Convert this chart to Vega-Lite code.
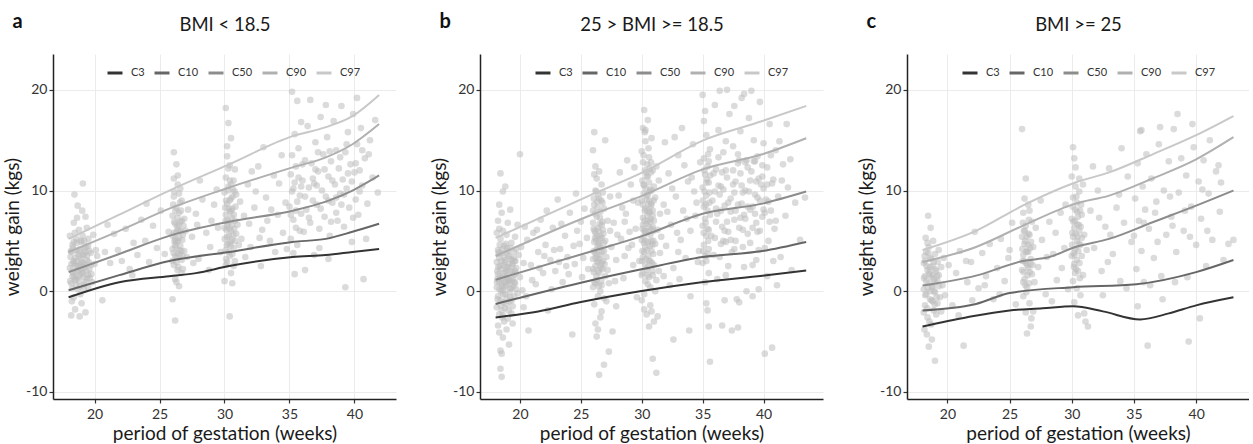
{
"$schema": "https://vega.github.io/schema/vega-lite/v6.json",
"padding": {"left": 3, "top": 12, "right": 0, "bottom": 0},
"datasets": {
"pa": [
{"x":18.1,"y":2.3},{"x":18.2,"y":0.8},{"x":18.2,"y":3.9},{"x":18.3,"y":1.5},{"x":18.3,"y":4.6},{"x":18.4,"y":2.8},{"x":18.4,"y":-0.6},{"x":18.5,"y":3.3},{"x":18.5,"y":1.1},{"x":18.6,"y":5.2},{"x":18.6,"y":2.0},{"x":18.7,"y":0.2},{"x":18.7,"y":3.7},{"x":18.8,"y":2.5},{"x":18.8,"y":6.1},{"x":18.9,"y":1.6},{"x":18.9,"y":4.2},{"x":19.0,"y":2.9},{"x":19.0,"y":-1.2},{"x":19.1,"y":3.6},{"x":19.1,"y":1.9},{"x":19.2,"y":5.0},{"x":19.2,"y":0.7},{"x":19.3,"y":2.6},{"x":19.3,"y":7.4},{"x":19.4,"y":3.1},{"x":19.4,"y":1.3},{"x":19.5,"y":4.5},{"x":19.6,"y":2.2},{"x":19.7,"y":3.8},{"x":19.8,"y":0.9},{"x":19.9,"y":5.6},{"x":20.0,"y":2.7},{"x":20.1,"y":4.1},{"x":18.1,"y":5.5},{"x":18.2,"y":-2.4},{"x":18.3,"y":2.0},{"x":18.4,"y":6.8},{"x":18.5,"y":-1.8},{"x":18.6,"y":3.0},{"x":18.7,"y":8.5},{"x":18.8,"y":1.0},{"x":18.9,"y":-0.3},{"x":19.0,"y":4.9},{"x":19.1,"y":10.7},{"x":19.2,"y":2.4},{"x":19.3,"y":-2.1},{"x":19.4,"y":6.3},{"x":19.5,"y":0.4},{"x":19.6,"y":4.0},{"x":18.15,"y":3.4},{"x":18.35,"y":1.8},{"x":18.55,"y":4.1},{"x":18.75,"y":2.1},{"x":18.95,"y":3.2},{"x":19.15,"y":1.4},{"x":19.35,"y":4.4},{"x":19.55,"y":2.9},{"x":19.75,"y":1.7},{"x":20.2,"y":3.5},{"x":18.45,"y":9.6},{"x":18.65,"y":7.3},{"x":19.05,"y":8.0},{"x":18.25,"y":-1.0},{"x":18.85,"y":-2.5},{"x":18.6,"y":1.2},{"x":18.9,"y":2.6},{"x":19.2,"y":3.7},{"x":19.5,"y":1.6},{"x":18.4,"y":4.9},
{"x":18.12,"y":1.0},{"x":18.22,"y":2.7},{"x":18.32,"y":4.3},{"x":18.42,"y":1.4},{"x":18.52,"y":2.6},{"x":18.62,"y":4.8},{"x":18.72,"y":1.5},{"x":18.82,"y":3.5},{"x":18.92,"y":5.0},{"x":19.02,"y":1.8},{"x":19.12,"y":2.8},{"x":19.22,"y":4.3},{"x":19.32,"y":0.9},{"x":19.42,"y":3.5},{"x":19.52,"y":5.2},{"x":19.62,"y":1.3},{"x":19.72,"y":2.6},{"x":18.18,"y":4.0},{"x":18.28,"y":0.3},{"x":18.38,"y":3.0},{"x":18.48,"y":5.8},{"x":18.58,"y":0.6},{"x":18.68,"y":2.4},{"x":18.78,"y":4.0},{"x":18.88,"y":0.5},{"x":18.98,"y":2.2},{"x":19.08,"y":5.5},{"x":19.18,"y":0.2},{"x":19.28,"y":3.9},{"x":19.38,"y":2.0},
{"x":20.6,"y":-0.9},{"x":20.8,"y":3.9},{"x":21.2,"y":2.8},{"x":21.5,"y":5.7},{"x":21.8,"y":4.1},{"x":22.1,"y":3.0},{"x":22.4,"y":6.2},{"x":22.7,"y":2.2},{"x":23.0,"y":4.8},{"x":23.3,"y":3.6},{"x":23.6,"y":7.1},{"x":23.9,"y":5.0},{"x":24.2,"y":2.9},{"x":24.5,"y":6.5},{"x":24.8,"y":4.3},{"x":25.1,"y":8.0},{"x":25.4,"y":3.7},{"x":25.7,"y":5.9},{"x":21.0,"y":6.6},{"x":22.9,"y":1.6},{"x":24.0,"y":8.7},
{"x":26.0,"y":4.2},{"x":26.0,"y":7.5},{"x":26.1,"y":2.6},{"x":26.1,"y":5.8},{"x":26.1,"y":9.4},{"x":26.2,"y":3.5},{"x":26.2,"y":6.7},{"x":26.2,"y":1.2},{"x":26.3,"y":4.9},{"x":26.3,"y":8.3},{"x":26.3,"y":2.9},{"x":26.4,"y":6.1},{"x":26.4,"y":3.8},{"x":26.4,"y":10.6},{"x":26.5,"y":5.3},{"x":26.5,"y":7.8},{"x":26.5,"y":0.5},{"x":26.6,"y":4.5},{"x":26.6,"y":6.9},{"x":26.7,"y":3.1},{"x":26.7,"y":9.0},{"x":26.8,"y":5.6},{"x":26.8,"y":2.2},{"x":26.9,"y":4.0},{"x":26.9,"y":7.2},{"x":27.0,"y":6.0},{"x":27.1,"y":3.4},{"x":27.2,"y":8.1},{"x":26.0,"y":-0.8},{"x":26.2,"y":-2.9},{"x":26.3,"y":12.6},{"x":26.1,"y":13.8},{"x":26.4,"y":11.5},{"x":26.6,"y":10.2},{"x":26.0,"y":3.0},{"x":26.15,"y":5.0},{"x":26.35,"y":6.4},{"x":26.55,"y":3.6},{"x":26.75,"y":5.1},{"x":26.05,"y":8.6},{"x":26.25,"y":4.4},{"x":26.45,"y":2.4},{"x":26.65,"y":8.0},{"x":26.85,"y":6.5},{"x":26.3,"y":0.9},{"x":26.7,"y":1.8},{"x":26.1,"y":11.2},{"x":26.5,"y":9.7},
{"x":26.02,"y":5.5},{"x":26.08,"y":3.8},{"x":26.12,"y":6.9},{"x":26.18,"y":4.6},{"x":26.22,"y":8.0},{"x":26.28,"y":5.8},{"x":26.32,"y":3.3},{"x":26.38,"y":7.3},{"x":26.42,"y":5.0},{"x":26.48,"y":6.6},{"x":26.52,"y":4.1},{"x":26.58,"y":8.8},{"x":26.62,"y":5.9},{"x":26.68,"y":4.0},{"x":26.72,"y":7.0},{"x":26.78,"y":3.5},{"x":26.12,"y":9.9},{"x":26.38,"y":2.1},{"x":26.58,"y":6.0},{"x":26.22,"y":5.2},
{"x":27.5,"y":5.4},{"x":27.8,"y":7.7},{"x":28.0,"y":3.2},{"x":28.3,"y":9.1},{"x":28.6,"y":5.8},{"x":28.9,"y":4.4},{"x":29.2,"y":8.6},{"x":29.5,"y":6.3},{"x":27.6,"y":2.8},{"x":28.1,"y":11.0},{"x":28.8,"y":2.1},{"x":29.4,"y":10.1},{"x":27.9,"y":6.6},{"x":29.0,"y":7.0},{"x":29.7,"y":3.9},
{"x":30.0,"y":6.3},{"x":30.0,"y":9.8},{"x":30.1,"y":4.1},{"x":30.1,"y":7.6},{"x":30.1,"y":11.3},{"x":30.2,"y":5.4},{"x":30.2,"y":8.7},{"x":30.2,"y":2.9},{"x":30.3,"y":6.8},{"x":30.3,"y":10.4},{"x":30.3,"y":4.7},{"x":30.4,"y":7.9},{"x":30.4,"y":3.5},{"x":30.4,"y":12.5},{"x":30.5,"y":6.0},{"x":30.5,"y":9.2},{"x":30.5,"y":1.8},{"x":30.6,"y":5.1},{"x":30.6,"y":8.2},{"x":30.7,"y":4.3},{"x":30.7,"y":11.0},{"x":30.8,"y":7.0},{"x":30.8,"y":3.0},{"x":30.9,"y":5.7},{"x":30.9,"y":9.6},{"x":31.0,"y":6.6},{"x":31.1,"y":4.6},{"x":31.2,"y":8.9},{"x":31.3,"y":5.2},{"x":30.1,"y":18.2},{"x":30.3,"y":16.7},{"x":30.2,"y":14.4},{"x":30.5,"y":15.2},{"x":30.4,"y":-2.5},{"x":30.6,"y":0.8},{"x":30.0,"y":1.0},{"x":30.15,"y":6.1},{"x":30.35,"y":5.5},{"x":30.55,"y":7.3},{"x":30.75,"y":6.2},{"x":30.05,"y":8.3},{"x":30.25,"y":7.1},{"x":30.45,"y":4.9},{"x":30.65,"y":10.1},{"x":30.85,"y":8.4},{"x":30.2,"y":13.4},{"x":30.8,"y":12.1},{"x":30.4,"y":9.0},{"x":30.6,"y":3.7},{"x":30.1,"y":2.6},{"x":30.3,"y":12.2},{"x":30.7,"y":2.5},
{"x":30.02,"y":5.2},{"x":30.08,"y":7.0},{"x":30.12,"y":9.0},{"x":30.18,"y":4.6},{"x":30.22,"y":6.5},{"x":30.28,"y":10.0},{"x":30.32,"y":8.2},{"x":30.38,"y":6.2},{"x":30.42,"y":11.0},{"x":30.48,"y":4.5},{"x":30.52,"y":8.0},{"x":30.58,"y":6.6},{"x":30.62,"y":9.4},{"x":30.68,"y":5.6},{"x":30.72,"y":7.6},{"x":30.78,"y":9.9},{"x":30.12,"y":3.2},{"x":30.32,"y":3.9},{"x":30.52,"y":10.6},{"x":30.82,"y":5.0},
{"x":31.5,"y":7.5},{"x":31.8,"y":10.6},{"x":32.0,"y":4.4},{"x":32.3,"y":8.3},{"x":32.6,"y":12.4},{"x":32.9,"y":6.1},{"x":33.2,"y":9.3},{"x":33.5,"y":5.0},{"x":33.8,"y":11.5},{"x":34.1,"y":7.6},{"x":34.4,"y":13.5},{"x":34.7,"y":8.8},{"x":31.6,"y":3.4},{"x":32.1,"y":11.9},{"x":32.8,"y":2.5},{"x":33.3,"y":7.0},{"x":33.9,"y":3.9},{"x":34.5,"y":5.8},{"x":31.9,"y":6.7},{"x":32.4,"y":9.9},{"x":33.0,"y":14.3},{"x":33.6,"y":8.1},{"x":34.2,"y":10.7},{"x":34.8,"y":4.2},{"x":32.7,"y":5.3},
{"x":35.0,"y":8.4},{"x":35.1,"y":11.6},{"x":35.1,"y":5.2},{"x":35.2,"y":9.9},{"x":35.2,"y":13.5},{"x":35.3,"y":7.1},{"x":35.3,"y":3.8},{"x":35.4,"y":10.8},{"x":35.4,"y":15.6},{"x":35.5,"y":6.3},{"x":35.5,"y":12.4},{"x":35.6,"y":8.9},{"x":35.6,"y":4.6},{"x":35.7,"y":14.2},{"x":35.8,"y":9.5},{"x":35.9,"y":7.7},{"x":36.0,"y":11.0},{"x":36.1,"y":5.9},{"x":36.2,"y":13.0},{"x":36.3,"y":8.1},{"x":36.4,"y":16.4},{"x":36.5,"y":10.3},{"x":36.6,"y":6.8},{"x":36.7,"y":12.7},{"x":36.8,"y":9.0},{"x":36.9,"y":3.6},{"x":37.0,"y":14.8},{"x":37.1,"y":8.6},{"x":37.2,"y":11.9},{"x":37.3,"y":6.2},{"x":37.4,"y":17.3},{"x":37.5,"y":10.0},{"x":37.6,"y":13.6},{"x":37.7,"y":7.4},{"x":37.8,"y":9.4},{"x":37.9,"y":15.3},{"x":38.0,"y":11.4},{"x":38.1,"y":5.5},{"x":38.2,"y":12.9},{"x":38.3,"y":8.8},{"x":38.4,"y":16.9},{"x":38.5,"y":10.6},{"x":38.6,"y":14.0},{"x":38.7,"y":7.0},{"x":38.8,"y":12.2},{"x":38.9,"y":9.7},{"x":39.0,"y":18.4},{"x":39.1,"y":11.1},{"x":39.2,"y":6.4},{"x":39.3,"y":13.8},{"x":39.4,"y":10.2},{"x":39.5,"y":15.8},{"x":39.6,"y":8.3},{"x":39.7,"y":12.6},{"x":39.8,"y":4.9},{"x":39.9,"y":17.6},{"x":40.0,"y":11.8},{"x":40.1,"y":9.1},{"x":40.2,"y":14.6},{"x":40.3,"y":7.6},{"x":40.4,"y":12.0},{"x":40.5,"y":16.2},{"x":40.6,"y":10.5},{"x":40.7,"y":1.2},{"x":40.8,"y":13.2},{"x":41.0,"y":8.7},{"x":41.2,"y":15.0},{"x":41.4,"y":11.3},{"x":41.6,"y":17.0},{"x":41.8,"y":9.8},{"x":35.2,"y":19.8},{"x":35.6,"y":18.9},{"x":36.6,"y":19.0},{"x":37.8,"y":18.5},{"x":39.3,"y":0.4},{"x":38.0,"y":3.2},{"x":36.2,"y":2.1},{"x":35.4,"y":1.7},{"x":37.3,"y":4.3},{"x":35.8,"y":6.0},{"x":36.9,"y":10.7},{"x":38.6,"y":9.3},{"x":39.9,"y":7.3},{"x":40.9,"y":5.2},{"x":41.1,"y":13.6},{"x":39.4,"y":14.6},{"x":38.2,"y":6.9},{"x":37.0,"y":12.1},{"x":35.9,"y":16.8},{"x":40.2,"y":19.2},
{"x":35.1,"y":7.6},{"x":35.3,"y":10.2},{"x":35.5,"y":8.0},{"x":35.7,"y":11.3},{"x":35.9,"y":10.4},{"x":36.2,"y":9.4},{"x":36.5,"y":7.3},{"x":36.8,"y":11.2},{"x":37.1,"y":10.5},{"x":37.4,"y":8.2},{"x":37.7,"y":12.1},{"x":38.0,"y":9.0},{"x":38.3,"y":11.0},{"x":38.6,"y":7.8},{"x":38.9,"y":13.3},{"x":39.2,"y":9.6},{"x":39.5,"y":11.7},{"x":39.8,"y":10.9},{"x":40.1,"y":12.7},{"x":40.4,"y":9.9},{"x":37.2,"y":13.8},{"x":38.1,"y":13.9},{"x":39.0,"y":8.6},{"x":36.0,"y":12.6},{"x":40.6,"y":14.0}
],
"pb": [
{"x":18.1,"y":0.4},{"x":18.1,"y":2.9},{"x":18.1,"y":-1.6},{"x":18.2,"y":1.7},{"x":18.2,"y":4.1},{"x":18.2,"y":-0.5},{"x":18.3,"y":0.9},{"x":18.3,"y":3.3},{"x":18.3,"y":-2.3},{"x":18.4,"y":2.2},{"x":18.4,"y":5.2},{"x":18.4,"y":-0.9},{"x":18.5,"y":1.3},{"x":18.5,"y":3.8},{"x":18.5,"y":-1.9},{"x":18.6,"y":0.1},{"x":18.6,"y":2.6},{"x":18.6,"y":6.0},{"x":18.7,"y":1.0},{"x":18.7,"y":-3.0},{"x":18.7,"y":4.5},{"x":18.8,"y":1.9},{"x":18.8,"y":-0.3},{"x":18.8,"y":3.1},{"x":18.9,"y":0.6},{"x":18.9,"y":5.6},{"x":18.9,"y":-1.3},{"x":19.0,"y":2.4},{"x":19.0,"y":-2.7},{"x":19.0,"y":4.0},{"x":19.1,"y":1.1},{"x":19.1,"y":3.5},{"x":19.2,"y":-0.6},{"x":19.2,"y":2.0},{"x":19.3,"y":4.8},{"x":19.3,"y":0.3},{"x":19.4,"y":2.7},{"x":19.4,"y":-1.5},{"x":19.5,"y":1.6},{"x":19.5,"y":3.9},{"x":19.6,"y":0.8},{"x":19.6,"y":5.4},{"x":19.7,"y":2.3},{"x":19.8,"y":-0.2},{"x":19.9,"y":3.6},{"x":20.0,"y":1.4},{"x":20.1,"y":4.4},{"x":20.2,"y":0.1},{"x":20.3,"y":2.8},{"x":20.4,"y":6.4},{"x":18.2,"y":7.0},{"x":18.3,"y":8.6},{"x":18.4,"y":11.7},{"x":18.6,"y":9.9},{"x":18.8,"y":10.4},{"x":18.5,"y":7.8},{"x":19.0,"y":6.8},{"x":19.2,"y":8.1},{"x":18.3,"y":-4.1},{"x":18.4,"y":-5.9},{"x":18.5,"y":-6.2},{"x":18.4,"y":-7.7},{"x":18.5,"y":-8.5},{"x":18.6,"y":-4.6},{"x":18.9,"y":-3.8},{"x":19.1,"y":-5.3},{"x":19.4,"y":-3.2},{"x":20.0,"y":13.6},{"x":18.15,"y":1.2},{"x":18.35,"y":2.5},{"x":18.55,"y":0.5},{"x":18.75,"y":2.9},{"x":18.95,"y":1.5},{"x":19.15,"y":-0.1},{"x":19.35,"y":1.9},{"x":19.55,"y":3.0},{"x":18.25,"y":3.7},{"x":18.45,"y":0.0},{"x":18.65,"y":-1.1},{"x":18.85,"y":4.7},{"x":19.05,"y":0.9},{"x":19.25,"y":3.2},{"x":19.45,"y":0.5},{"x":19.65,"y":1.8},{"x":18.1,"y":5.8},{"x":18.3,"y":6.2},{"x":18.6,"y":-2.4},{"x":18.9,"y":2.1},{"x":19.3,"y":-2.2},{"x":19.7,"y":4.2},{"x":20.5,"y":-0.5},{"x":20.6,"y":5.1},{"x":20.3,"y":-1.6},{"x":18.2,"y":-3.4},{"x":19.8,"y":6.6},{"x":20.7,"y":-3.9},
{"x":18.12,"y":0.9},{"x":18.17,"y":-0.8},{"x":18.22,"y":2.4},{"x":18.27,"y":3.9},{"x":18.32,"y":0.2},{"x":18.37,"y":1.5},{"x":18.42,"y":-1.4},{"x":18.47,"y":3.0},{"x":18.52,"y":0.7},{"x":18.57,"y":4.2},{"x":18.62,"y":-0.3},{"x":18.67,"y":1.8},{"x":18.72,"y":3.4},{"x":18.77,"y":-1.7},{"x":18.82,"y":0.9},{"x":18.87,"y":2.4},{"x":18.92,"y":-0.7},{"x":18.97,"y":3.7},{"x":19.02,"y":1.2},{"x":19.07,"y":-1.9},{"x":19.12,"y":2.7},{"x":19.17,"y":0.3},{"x":19.22,"y":4.3},{"x":19.27,"y":1.0},{"x":19.32,"y":-0.9},{"x":19.37,"y":2.5},{"x":19.42,"y":1.2},{"x":19.47,"y":3.3},{"x":19.52,"y":-0.5},{"x":19.57,"y":2.0},{"x":19.62,"y":3.0},{"x":19.67,"y":0.2},{"x":18.14,"y":2.0},{"x":18.34,"y":4.6},{"x":18.54,"y":-2.6},{"x":18.74,"y":0.4},{"x":18.94,"y":4.3},{"x":19.14,"y":-1.0},{"x":19.34,"y":3.1},{"x":19.54,"y":0.9},
{"x":20.9,"y":2.6},{"x":21.1,"y":5.8},{"x":21.3,"y":0.7},{"x":21.5,"y":3.9},{"x":21.7,"y":7.1},{"x":21.9,"y":1.8},{"x":22.1,"y":4.6},{"x":22.3,"y":-1.9},{"x":22.5,"y":3.1},{"x":22.7,"y":6.3},{"x":22.9,"y":2.0},{"x":23.1,"y":9.1},{"x":23.3,"y":4.2},{"x":23.5,"y":0.9},{"x":23.7,"y":5.5},{"x":23.9,"y":3.4},{"x":24.1,"y":7.8},{"x":24.3,"y":-4.3},{"x":24.5,"y":2.7},{"x":24.7,"y":6.0},{"x":24.9,"y":4.7},{"x":25.1,"y":1.4},{"x":25.3,"y":8.2},{"x":25.5,"y":5.3},{"x":21.0,"y":1.1},{"x":21.6,"y":2.3},{"x":22.2,"y":8.0},{"x":22.8,"y":4.1},{"x":23.4,"y":6.7},{"x":24.0,"y":1.7},{"x":24.6,"y":9.7},{"x":25.2,"y":3.3},{"x":21.4,"y":6.1},{"x":22.6,"y":0.2},{"x":23.8,"y":2.5},{"x":25.0,"y":6.9},{"x":24.4,"y":4.5},{"x":23.2,"y":2.9},{"x":22.0,"y":3.5},{"x":25.6,"y":2.2},
{"x":26.0,"y":3.2},{"x":26.0,"y":6.8},{"x":26.0,"y":0.4},{"x":26.1,"y":4.9},{"x":26.1,"y":8.6},{"x":26.1,"y":-1.3},{"x":26.2,"y":2.5},{"x":26.2,"y":5.8},{"x":26.2,"y":10.0},{"x":26.3,"y":1.1},{"x":26.3,"y":4.1},{"x":26.3,"y":7.4},{"x":26.4,"y":-0.5},{"x":26.4,"y":3.0},{"x":26.4,"y":6.3},{"x":26.5,"y":9.2},{"x":26.5,"y":1.8},{"x":26.5,"y":4.6},{"x":26.6,"y":0.0},{"x":26.6,"y":7.9},{"x":26.6,"y":3.6},{"x":26.7,"y":5.3},{"x":26.7,"y":-2.0},{"x":26.7,"y":10.6},{"x":26.8,"y":2.2},{"x":26.8,"y":6.1},{"x":26.9,"y":4.0},{"x":26.9,"y":8.2},{"x":27.0,"y":1.5},{"x":27.0,"y":5.0},{"x":27.1,"y":3.4},{"x":27.2,"y":7.0},{"x":27.3,"y":0.8},{"x":27.4,"y":9.4},{"x":27.5,"y":4.4},{"x":26.05,"y":1.9},{"x":26.15,"y":3.8},{"x":26.25,"y":5.1},{"x":26.35,"y":2.9},{"x":26.45,"y":4.8},{"x":26.55,"y":6.7},{"x":26.65,"y":2.3},{"x":26.75,"y":3.9},{"x":26.85,"y":5.7},{"x":26.95,"y":2.7},{"x":26.1,"y":11.6},{"x":26.3,"y":11.2},{"x":26.2,"y":12.4},{"x":26.0,"y":14.0},{"x":26.1,"y":15.8},{"x":26.5,"y":11.9},{"x":27.0,"y":15.0},{"x":26.2,"y":-3.2},{"x":26.4,"y":-3.8},{"x":26.3,"y":-4.5},{"x":26.5,"y":-8.3},{"x":26.9,"y":-7.3},{"x":26.6,"y":-2.6},{"x":27.1,"y":-1.0},{"x":27.3,"y":-6.0},{"x":27.6,"y":-4.0},{"x":26.0,"y":8.0},{"x":26.4,"y":9.6},{"x":26.8,"y":9.8},{"x":26.2,"y":0.8},{"x":26.6,"y":5.5},{"x":27.2,"y":2.1},{"x":26.05,"y":6.2},{"x":26.35,"y":8.9},{"x":26.7,"y":0.6},{"x":26.9,"y":-0.7},{"x":27.4,"y":6.0},
{"x":26.02,"y":2.2},{"x":26.07,"y":4.0},{"x":26.12,"y":6.0},{"x":26.17,"y":7.7},{"x":26.22,"y":3.3},{"x":26.27,"y":1.5},{"x":26.32,"y":5.5},{"x":26.37,"y":8.3},{"x":26.42,"y":2.0},{"x":26.47,"y":6.0},{"x":26.52,"y":3.2},{"x":26.57,"y":7.3},{"x":26.62,"y":4.3},{"x":26.67,"y":1.0},{"x":26.72,"y":6.6},{"x":26.77,"y":8.8},{"x":26.82,"y":3.0},{"x":26.87,"y":4.8},{"x":26.07,"y":9.2},{"x":26.27,"y":9.9},{"x":26.47,"y":0.5},{"x":26.67,"y":9.0},{"x":26.12,"y":0.9},{"x":26.32,"y":3.6},{"x":26.52,"y":5.2},{"x":26.72,"y":2.8},{"x":26.17,"y":5.3},{"x":26.37,"y":4.5},{"x":26.57,"y":2.5},{"x":26.77,"y":6.9},
{"x":27.7,"y":6.8},{"x":27.9,"y":3.1},{"x":28.1,"y":9.5},{"x":28.3,"y":5.2},{"x":28.5,"y":1.3},{"x":28.7,"y":7.7},{"x":28.9,"y":4.3},{"x":29.1,"y":10.6},{"x":29.3,"y":2.6},{"x":29.5,"y":6.2},{"x":29.7,"y":8.8},{"x":27.8,"y":1.0},{"x":28.2,"y":11.8},{"x":28.6,"y":3.5},{"x":29.0,"y":5.9},{"x":29.4,"y":12.3},{"x":29.6,"y":-0.6},{"x":28.4,"y":8.3},{"x":27.9,"y":-1.5},{"x":29.2,"y":4.6},{"x":28.8,"y":13.0},{"x":29.8,"y":3.0},{"x":28.0,"y":5.6},{"x":29.3,"y":9.0},{"x":28.6,"y":6.9},
{"x":30.0,"y":5.1},{"x":30.0,"y":9.0},{"x":30.0,"y":1.6},{"x":30.1,"y":7.3},{"x":30.1,"y":12.8},{"x":30.1,"y":3.4},{"x":30.2,"y":6.0},{"x":30.2,"y":10.5},{"x":30.2,"y":-0.3},{"x":30.3,"y":4.4},{"x":30.3,"y":8.2},{"x":30.3,"y":14.9},{"x":30.4,"y":2.1},{"x":30.4,"y":6.7},{"x":30.4,"y":11.4},{"x":30.5,"y":4.9},{"x":30.5,"y":9.6},{"x":30.5,"y":0.7},{"x":30.6,"y":7.8},{"x":30.6,"y":13.3},{"x":30.6,"y":3.0},{"x":30.7,"y":5.6},{"x":30.7,"y":10.1},{"x":30.7,"y":-1.4},{"x":30.8,"y":4.0},{"x":30.8,"y":8.7},{"x":30.9,"y":6.4},{"x":30.9,"y":12.0},{"x":31.0,"y":2.6},{"x":31.0,"y":7.0},{"x":31.1,"y":4.7},{"x":31.1,"y":9.3},{"x":31.2,"y":1.1},{"x":31.3,"y":6.1},{"x":31.4,"y":11.0},{"x":31.5,"y":3.8},{"x":30.05,"y":4.0},{"x":30.15,"y":5.4},{"x":30.25,"y":8.0},{"x":30.35,"y":3.2},{"x":30.45,"y":7.5},{"x":30.55,"y":5.9},{"x":30.65,"y":4.5},{"x":30.75,"y":8.5},{"x":30.85,"y":2.8},{"x":30.95,"y":5.0},{"x":30.05,"y":11.0},{"x":30.15,"y":13.5},{"x":30.25,"y":15.8},{"x":30.35,"y":10.2},{"x":30.45,"y":12.6},{"x":30.55,"y":14.2},{"x":30.65,"y":9.9},{"x":30.75,"y":11.8},{"x":30.1,"y":16.2},{"x":30.3,"y":16.0},{"x":30.5,"y":17.0},{"x":30.2,"y":18.0},{"x":30.8,"y":15.2},{"x":30.4,"y":-2.3},{"x":30.6,"y":-3.5},{"x":30.8,"y":-2.0},{"x":30.9,"y":-6.7},{"x":31.2,"y":-8.1},{"x":31.0,"y":-3.0},{"x":30.2,"y":-1.8},{"x":31.3,"y":-2.5},{"x":30.0,"y":-0.9},{"x":30.7,"y":0.4},{"x":31.1,"y":0.0},{"x":30.3,"y":1.0},{"x":30.5,"y":2.4},{"x":30.9,"y":1.6},{"x":31.4,"y":2.0},{"x":30.1,"y":6.6},{"x":30.3,"y":5.8},{"x":30.5,"y":7.0},{"x":30.7,"y":6.9},{"x":30.9,"y":8.0},{"x":31.0,"y":10.4},{"x":31.2,"y":12.4},{"x":30.2,"y":3.9},{"x":30.4,"y":9.1},{"x":30.6,"y":10.8},{"x":30.8,"y":6.2},{"x":31.5,"y":7.7},{"x":31.6,"y":5.4},{"x":30.6,"y":1.4},{"x":30.0,"y":13.9},
{"x":30.02,"y":3.0},{"x":30.06,"y":6.2},{"x":30.1,"y":8.6},{"x":30.14,"y":10.6},{"x":30.18,"y":4.8},{"x":30.22,"y":7.0},{"x":30.26,"y":12.0},{"x":30.3,"y":2.6},{"x":30.34,"y":6.0},{"x":30.38,"y":9.5},{"x":30.42,"y":4.1},{"x":30.46,"y":8.0},{"x":30.5,"y":11.4},{"x":30.54,"y":3.5},{"x":30.58,"y":6.4},{"x":30.62,"y":9.0},{"x":30.66,"y":12.2},{"x":30.7,"y":3.0},{"x":30.74,"y":7.2},{"x":30.78,"y":5.0},{"x":30.82,"y":10.0},{"x":30.86,"y":4.6},{"x":30.9,"y":7.5},{"x":30.94,"y":3.7},{"x":30.98,"y":9.0},{"x":30.08,"y":1.8},{"x":30.28,"y":5.0},{"x":30.48,"y":1.6},{"x":30.68,"y":7.9},{"x":30.88,"y":2.0},{"x":30.16,"y":9.7},{"x":30.36,"y":11.8},{"x":30.56,"y":8.6},{"x":30.76,"y":12.8},{"x":30.96,"y":6.0},
{"x":31.8,"y":8.6},{"x":32.0,"y":4.5},{"x":32.2,"y":11.7},{"x":32.4,"y":6.6},{"x":32.6,"y":2.3},{"x":32.8,"y":9.4},{"x":33.0,"y":13.5},{"x":33.2,"y":5.1},{"x":33.4,"y":8.0},{"x":33.6,"y":3.3},{"x":33.8,"y":10.9},{"x":34.0,"y":6.0},{"x":34.2,"y":14.6},{"x":34.4,"y":7.5},{"x":34.6,"y":2.9},{"x":31.9,"y":14.8},{"x":32.3,"y":0.6},{"x":32.7,"y":15.3},{"x":33.1,"y":1.2},{"x":33.5,"y":12.5},{"x":33.9,"y":-3.9},{"x":34.3,"y":9.9},{"x":34.7,"y":4.0},{"x":32.1,"y":7.9},{"x":32.5,"y":10.2},{"x":32.9,"y":5.8},{"x":33.3,"y":16.2},{"x":33.7,"y":7.2},{"x":34.1,"y":11.3},{"x":34.5,"y":8.8},{"x":32.6,"y":-4.8},{"x":34.8,"y":12.8},{"x":33.0,"y":3.9},{"x":31.8,"y":1.5},{"x":34.0,"y":-0.5},
{"x":35.0,"y":6.5},{"x":35.0,"y":10.3},{"x":35.0,"y":2.8},{"x":35.1,"y":8.4},{"x":35.1,"y":13.2},{"x":35.1,"y":4.6},{"x":35.2,"y":7.2},{"x":35.2,"y":11.6},{"x":35.2,"y":0.9},{"x":35.3,"y":5.5},{"x":35.3,"y":9.5},{"x":35.3,"y":15.5},{"x":35.4,"y":3.7},{"x":35.4,"y":8.0},{"x":35.4,"y":12.4},{"x":35.5,"y":6.1},{"x":35.5,"y":10.8},{"x":35.5,"y":1.8},{"x":35.6,"y":7.6},{"x":35.6,"y":14.1},{"x":35.05,"y":4.0},{"x":35.15,"y":9.9},{"x":35.25,"y":6.8},{"x":35.35,"y":11.1},{"x":35.45,"y":5.0},{"x":35.55,"y":8.8},{"x":35.1,"y":16.9},{"x":35.2,"y":17.9},{"x":35.0,"y":19.5},{"x":35.3,"y":-1.2},{"x":35.5,"y":-3.5},{"x":35.4,"y":-1.9},{"x":35.6,"y":-7.0},{"x":35.3,"y":3.0},{"x":35.5,"y":12.9},
{"x":35.8,"y":9.0},{"x":36.0,"y":5.3},{"x":36.1,"y":12.1},{"x":36.2,"y":7.7},{"x":36.3,"y":16.0},{"x":36.4,"y":3.4},{"x":36.5,"y":10.4},{"x":36.6,"y":6.4},{"x":36.7,"y":13.8},{"x":36.8,"y":8.5},{"x":36.9,"y":1.6},{"x":37.0,"y":11.3},{"x":37.1,"y":5.9},{"x":37.2,"y":17.6},{"x":37.3,"y":9.2},{"x":37.4,"y":3.9},{"x":37.5,"y":14.4},{"x":37.6,"y":7.1},{"x":37.7,"y":10.9},{"x":37.8,"y":-0.8},{"x":37.9,"y":12.7},{"x":38.0,"y":6.3},{"x":38.1,"y":15.9},{"x":38.2,"y":8.7},{"x":38.3,"y":4.4},{"x":38.4,"y":19.6},{"x":38.5,"y":10.0},{"x":38.6,"y":13.0},{"x":38.7,"y":5.7},{"x":38.8,"y":17.2},{"x":38.9,"y":8.1},{"x":39.0,"y":11.9},{"x":39.1,"y":2.6},{"x":39.2,"y":15.0},{"x":39.3,"y":9.6},{"x":39.4,"y":6.8},{"x":39.5,"y":13.4},{"x":39.6,"y":4.1},{"x":39.7,"y":18.8},{"x":39.8,"y":10.6},{"x":39.9,"y":7.4},{"x":40.0,"y":14.7},{"x":40.1,"y":-6.2},{"x":40.2,"y":9.1},{"x":40.3,"y":12.3},{"x":40.4,"y":5.0},{"x":40.5,"y":16.6},{"x":40.6,"y":8.0},{"x":40.7,"y":-5.6},{"x":40.8,"y":11.1},{"x":40.9,"y":6.2},{"x":41.0,"y":14.0},{"x":41.2,"y":9.4},{"x":41.4,"y":3.4},{"x":41.6,"y":12.6},{"x":41.8,"y":7.5},{"x":42.0,"y":10.3},{"x":42.3,"y":2.1},{"x":42.6,"y":8.8},{"x":43.0,"y":5.1},{"x":43.4,"y":9.3},{"x":36.0,"y":18.5},{"x":36.4,"y":19.9},{"x":37.0,"y":20.0},{"x":37.6,"y":18.4},{"x":38.2,"y":19.2},{"x":39.0,"y":19.9},{"x":36.2,"y":1.2},{"x":36.8,"y":-0.9},{"x":37.4,"y":-3.9},{"x":38.0,"y":-1.1},{"x":38.6,"y":0.0},{"x":39.1,"y":-0.5},{"x":39.6,"y":0.2},{"x":37.9,"y":-3.6},{"x":36.6,"y":-3.4},{"x":35.9,"y":3.6},{"x":36.9,"y":4.9},{"x":38.4,"y":2.4},{"x":39.4,"y":3.1},{"x":40.3,"y":1.5},{"x":41.1,"y":0.6},{"x":36.1,"y":8.2},{"x":36.7,"y":10.1},{"x":37.3,"y":7.9},{"x":37.9,"y":8.6},{"x":38.5,"y":7.2},{"x":39.1,"y":8.4},{"x":39.7,"y":9.0},{"x":40.4,"y":8.9},{"x":41.0,"y":7.0},{"x":36.3,"y":13.3},{"x":36.9,"y":14.9},{"x":37.5,"y":12.0},{"x":38.1,"y":11.7},{"x":38.7,"y":12.3},{"x":39.3,"y":12.9},{"x":39.9,"y":11.4},{"x":40.6,"y":13.5},{"x":41.3,"y":14.9},{"x":41.9,"y":16.6},{"x":36.5,"y":4.7},{"x":37.1,"y":2.5},{"x":37.7,"y":5.0},{"x":38.3,"y":6.1},{"x":38.9,"y":4.8},{"x":39.5,"y":5.9},{"x":40.1,"y":4.3},{"x":40.8,"y":3.0},{"x":36.4,"y":9.6},{"x":37.0,"y":6.9},{"x":37.6,"y":9.8},{"x":38.2,"y":10.5},{"x":38.8,"y":9.9},{"x":39.4,"y":10.9},{"x":40.0,"y":10.2},{"x":40.7,"y":10.7},{"x":41.5,"y":11.0},{"x":42.2,"y":13.1},
{"x":35.02,"y":9.0},{"x":35.08,"y":5.8},{"x":35.14,"y":12.0},{"x":35.2,"y":3.5},{"x":35.26,"y":8.6},{"x":35.32,"y":10.8},{"x":35.38,"y":6.2},{"x":35.44,"y":13.6},{"x":35.5,"y":4.2},{"x":35.56,"y":9.8},{"x":35.62,"y":11.5},{"x":35.7,"y":5.5},{"x":35.9,"y":11.7},{"x":36.1,"y":6.9},{"x":36.3,"y":10.5},{"x":36.5,"y":8.0},{"x":36.7,"y":5.0},{"x":36.9,"y":12.0},{"x":37.1,"y":8.8},{"x":37.3,"y":5.1},{"x":37.5,"y":10.6},{"x":37.7,"y":8.0},{"x":37.9,"y":13.6},{"x":38.1,"y":7.3},{"x":38.3,"y":9.8},{"x":38.5,"y":12.8},{"x":38.7,"y":8.4},{"x":38.9,"y":11.0},{"x":39.1,"y":6.3},{"x":39.3,"y":7.7},{"x":39.5,"y":9.3},{"x":39.7,"y":6.0},{"x":39.9,"y":12.5},{"x":40.1,"y":7.8},{"x":40.3,"y":10.6},{"x":40.5,"y":6.9},{"x":36.0,"y":9.9},{"x":36.8,"y":6.0},{"x":37.6,"y":4.2},{"x":38.4,"y":7.6},{"x":39.2,"y":12.9},{"x":40.0,"y":8.1},{"x":36.6,"y":11.8},{"x":38.0,"y":13.0},{"x":39.6,"y":11.2}
],
"pc": [
{"x":18.1,"y":0.2},{"x":18.1,"y":2.8},{"x":18.2,"y":-1.4},{"x":18.2,"y":1.5},{"x":18.3,"y":3.9},{"x":18.3,"y":-0.3},{"x":18.4,"y":2.1},{"x":18.4,"y":-2.6},{"x":18.5,"y":0.8},{"x":18.5,"y":4.4},{"x":18.6,"y":-0.8},{"x":18.6,"y":1.9},{"x":18.7,"y":3.2},{"x":18.7,"y":-3.3},{"x":18.8,"y":0.4},{"x":18.8,"y":2.5},{"x":18.9,"y":-1.9},{"x":18.9,"y":1.2},{"x":19.0,"y":3.7},{"x":19.0,"y":-0.1},{"x":19.1,"y":2.0},{"x":19.1,"y":-2.3},{"x":19.2,"y":1.0},{"x":19.3,"y":4.1},{"x":19.4,"y":-0.6},{"x":19.5,"y":2.4},{"x":19.6,"y":0.6},{"x":19.7,"y":3.3},{"x":18.15,"y":-3.8},{"x":18.35,"y":-4.3},{"x":18.55,"y":-3.0},{"x":18.75,"y":-4.8},{"x":18.25,"y":5.3},{"x":18.45,"y":7.5},{"x":18.65,"y":6.3},{"x":18.85,"y":5.0},{"x":18.5,"y":-5.5},{"x":19.0,"y":-6.9},{"x":18.3,"y":1.0},{"x":18.6,"y":0.0},{"x":18.9,"y":2.9},{"x":19.2,"y":-1.2},{"x":19.5,"y":-2.0},{"x":18.2,"y":3.0},{"x":18.8,"y":-1.0},{"x":19.3,"y":1.6},{"x":18.1,"y":-2.1},{"x":18.4,"y":4.8},{"x":19.0,"y":0.9},{"x":19.8,"y":-0.4},{"x":18.7,"y":1.4},
{"x":18.12,"y":1.3},{"x":18.22,"y":-0.4},{"x":18.32,"y":2.5},{"x":18.42,"y":0.3},{"x":18.52,"y":1.7},{"x":18.62,"y":3.3},{"x":18.72,"y":-0.9},{"x":18.82,"y":1.6},{"x":18.92,"y":0.0},{"x":19.02,"y":2.2},{"x":19.12,"y":-0.6},{"x":19.22,"y":2.9},{"x":19.32,"y":0.5},{"x":18.17,"y":3.5},{"x":18.37,"y":-1.7},{"x":18.57,"y":2.4},{"x":18.77,"y":0.5},{"x":18.97,"y":-1.3},{"x":19.17,"y":1.5},{"x":18.47,"y":3.8},
{"x":20.1,"y":2.6},{"x":20.4,"y":-1.4},{"x":20.7,"y":1.8},{"x":21.0,"y":4.0},{"x":21.3,"y":-5.4},{"x":21.6,"y":0.9},{"x":21.9,"y":2.9},{"x":22.2,"y":5.9},{"x":22.5,"y":0.3},{"x":22.8,"y":3.8},{"x":23.1,"y":1.5},{"x":23.4,"y":4.7},{"x":23.7,"y":-0.8},{"x":24.0,"y":2.3},{"x":24.3,"y":5.2},{"x":24.6,"y":1.0},{"x":24.9,"y":3.3},{"x":25.2,"y":6.8},{"x":25.5,"y":-1.3},{"x":20.9,"y":-2.4},{"x":22.0,"y":-0.9},{"x":23.0,"y":0.6},{"x":24.2,"y":-0.3},{"x":25.0,"y":4.1},{"x":21.5,"y":3.0},
{"x":26.0,"y":2.1},{"x":26.0,"y":5.4},{"x":26.1,"y":-0.5},{"x":26.1,"y":3.6},{"x":26.1,"y":7.8},{"x":26.2,"y":1.2},{"x":26.2,"y":4.7},{"x":26.3,"y":-2.1},{"x":26.3,"y":2.8},{"x":26.3,"y":6.5},{"x":26.4,"y":0.4},{"x":26.4,"y":4.0},{"x":26.5,"y":8.6},{"x":26.5,"y":2.3},{"x":26.6,"y":-1.2},{"x":26.6,"y":5.6},{"x":26.7,"y":3.2},{"x":26.7,"y":-3.5},{"x":26.8,"y":1.7},{"x":26.8,"y":6.9},{"x":26.9,"y":4.4},{"x":27.0,"y":0.9},{"x":26.05,"y":3.0},{"x":26.25,"y":5.0},{"x":26.45,"y":1.6},{"x":26.65,"y":4.3},{"x":26.85,"y":2.6},{"x":26.15,"y":6.0},{"x":26.35,"y":-0.1},{"x":26.55,"y":7.1},{"x":26.75,"y":-2.7},{"x":26.4,"y":-4.2},{"x":26.3,"y":11.2},{"x":26.0,"y":16.1},{"x":26.2,"y":9.2},{"x":26.6,"y":8.0},{"x":26.9,"y":-2.0},{"x":27.1,"y":6.3},{"x":26.1,"y":0.9},{"x":26.5,"y":3.9},
{"x":26.02,"y":4.2},{"x":26.12,"y":1.9},{"x":26.22,"y":6.0},{"x":26.32,"y":3.9},{"x":26.42,"y":2.6},{"x":26.52,"y":5.7},{"x":26.62,"y":1.9},{"x":26.72,"y":4.9},{"x":26.07,"y":6.8},{"x":26.27,"y":0.6},{"x":26.47,"y":4.6},{"x":26.67,"y":2.7},{"x":26.17,"y":3.0},{"x":26.37,"y":5.4},{"x":26.57,"y":0.8},
{"x":27.3,"y":2.4},{"x":27.6,"y":5.1},{"x":27.9,"y":-0.3},{"x":28.2,"y":6.9},{"x":28.5,"y":3.7},{"x":28.8,"y":1.1},{"x":29.1,"y":7.8},{"x":29.4,"y":4.3},{"x":29.7,"y":0.2},{"x":27.5,"y":9.0},{"x":28.0,"y":3.4},{"x":28.7,"y":5.8},{"x":29.2,"y":2.3},{"x":29.5,"y":8.6},{"x":28.4,"y":-1.0},
{"x":30.0,"y":3.5},{"x":30.0,"y":7.2},{"x":30.1,"y":1.0},{"x":30.1,"y":5.4},{"x":30.1,"y":9.3},{"x":30.2,"y":2.7},{"x":30.2,"y":6.3},{"x":30.2,"y":-1.1},{"x":30.3,"y":4.2},{"x":30.3,"y":8.1},{"x":30.3,"y":10.4},{"x":30.4,"y":0.3},{"x":30.4,"y":5.0},{"x":30.4,"y":3.1},{"x":30.5,"y":7.4},{"x":30.5,"y":-2.4},{"x":30.5,"y":2.0},{"x":30.6,"y":6.0},{"x":30.6,"y":9.9},{"x":30.7,"y":4.6},{"x":30.7,"y":-0.4},{"x":30.8,"y":3.5},{"x":30.8,"y":7.6},{"x":30.9,"y":1.6},{"x":31.0,"y":5.6},{"x":31.1,"y":-3.0},{"x":31.2,"y":4.1},{"x":30.05,"y":5.8},{"x":30.15,"y":3.8},{"x":30.25,"y":7.0},{"x":30.35,"y":2.2},{"x":30.45,"y":6.6},{"x":30.55,"y":4.7},{"x":30.65,"y":1.3},{"x":30.75,"y":8.6},{"x":30.1,"y":14.3},{"x":30.2,"y":13.2},{"x":30.3,"y":12.3},{"x":30.0,"y":11.4},{"x":30.6,"y":11.2},{"x":31.0,"y":-2.2},{"x":31.3,"y":-3.5},{"x":30.4,"y":8.8},{"x":30.8,"y":5.3},{"x":30.9,"y":10.6},
{"x":30.02,"y":4.6},{"x":30.12,"y":6.9},{"x":30.22,"y":3.6},{"x":30.32,"y":5.7},{"x":30.42,"y":7.9},{"x":30.52,"y":4.0},{"x":30.62,"y":2.8},{"x":30.72,"y":6.4},{"x":30.07,"y":8.4},{"x":30.27,"y":1.8},{"x":30.47,"y":5.4},{"x":30.67,"y":8.0},{"x":30.17,"y":2.4},{"x":30.37,"y":9.4},{"x":30.57,"y":6.6},
{"x":31.5,"y":8.0},{"x":31.8,"y":4.3},{"x":32.1,"y":10.0},{"x":32.4,"y":2.0},{"x":32.7,"y":6.4},{"x":33.0,"y":12.2},{"x":33.3,"y":3.7},{"x":33.6,"y":8.3},{"x":33.9,"y":1.0},{"x":34.2,"y":6.8},{"x":34.5,"y":11.4},{"x":34.8,"y":4.9},{"x":31.7,"y":12.4},{"x":32.5,"y":-0.4},{"x":33.1,"y":5.6},{"x":33.8,"y":9.6},{"x":34.4,"y":0.3},{"x":32.2,"y":7.3},{"x":34.0,"y":14.2},{"x":32.9,"y":2.9},
{"x":35.0,"y":5.5},{"x":35.1,"y":9.2},{"x":35.2,"y":2.2},{"x":35.3,"y":12.7},{"x":35.4,"y":7.0},{"x":35.5,"y":15.9},{"x":35.6,"y":4.0},{"x":35.7,"y":10.4},{"x":35.8,"y":0.9},{"x":35.9,"y":8.1},{"x":36.0,"y":13.6},{"x":36.1,"y":-5.4},{"x":36.2,"y":6.2},{"x":36.4,"y":11.2},{"x":36.6,"y":3.3},{"x":36.8,"y":8.9},{"x":37.0,"y":14.6},{"x":37.2,"y":1.5},{"x":37.4,"y":10.0},{"x":37.6,"y":5.6},{"x":37.8,"y":12.9},{"x":38.0,"y":7.4},{"x":38.2,"y":16.1},{"x":38.4,"y":3.9},{"x":38.6,"y":9.8},{"x":38.8,"y":13.2},{"x":39.0,"y":6.0},{"x":39.2,"y":11.5},{"x":39.4,"y":-5.0},{"x":39.6,"y":8.4},{"x":39.8,"y":14.3},{"x":40.0,"y":4.6},{"x":40.2,"y":10.9},{"x":40.4,"y":7.2},{"x":40.6,"y":13.0},{"x":40.8,"y":2.5},{"x":41.0,"y":9.7},{"x":41.3,"y":5.1},{"x":41.6,"y":11.9},{"x":41.9,"y":7.9},{"x":42.2,"y":3.1},{"x":42.6,"y":4.7},{"x":43.0,"y":5.1},{"x":35.3,"y":-1.5},{"x":36.3,"y":0.6},{"x":37.3,"y":-0.8},{"x":38.3,"y":0.9},{"x":39.3,"y":1.4},{"x":40.3,"y":-2.7},{"x":35.6,"y":16.0},{"x":37.1,"y":16.3},{"x":38.5,"y":17.6},{"x":39.7,"y":16.6},{"x":41.1,"y":15.0},{"x":36.7,"y":7.8},{"x":37.9,"y":9.4},{"x":39.1,"y":8.0},{"x":40.5,"y":10.1},{"x":35.8,"y":6.8},{"x":36.9,"y":4.9},{"x":38.1,"y":6.5},{"x":39.5,"y":5.4},{"x":40.9,"y":6.0},{"x":41.8,"y":12.5},{"x":42.0,"y":10.8}
],
"lines": [
{"p":"a","c":"C3","x":18.0,"y":-0.6},{"p":"a","c":"C3","x":21.9,"y":0.9},{"p":"a","c":"C3","x":25.75,"y":1.5},{"p":"a","c":"C3","x":27.8,"y":1.8},{"p":"a","c":"C3","x":30.36,"y":2.5},{"p":"a","c":"C3","x":35.24,"y":3.4},{"p":"a","c":"C3","x":37.8,"y":3.6},{"p":"a","c":"C3","x":39.85,"y":3.9},{"p":"a","c":"C3","x":41.9,"y":4.2},
{"p":"a","c":"C10","x":18.0,"y":0.1},{"p":"a","c":"C10","x":21.9,"y":1.6},{"p":"a","c":"C10","x":25.75,"y":3.0},{"p":"a","c":"C10","x":30.36,"y":3.9},{"p":"a","c":"C10","x":35.24,"y":4.9},{"p":"a","c":"C10","x":37.8,"y":5.2},{"p":"a","c":"C10","x":39.85,"y":5.9},{"p":"a","c":"C10","x":41.9,"y":6.7},
{"p":"a","c":"C50","x":18.0,"y":1.9},{"p":"a","c":"C50","x":21.9,"y":3.7},{"p":"a","c":"C50","x":25.75,"y":5.5},{"p":"a","c":"C50","x":30.36,"y":6.9},{"p":"a","c":"C50","x":35.24,"y":8.0},{"p":"a","c":"C50","x":37.8,"y":8.9},{"p":"a","c":"C50","x":39.85,"y":10.0},{"p":"a","c":"C50","x":41.9,"y":11.5},
{"p":"a","c":"C90","x":18.0,"y":3.9},{"p":"a","c":"C90","x":21.9,"y":6.0},{"p":"a","c":"C90","x":25.75,"y":8.2},{"p":"a","c":"C90","x":30.36,"y":10.3},{"p":"a","c":"C90","x":35.24,"y":12.3},{"p":"a","c":"C90","x":37.8,"y":13.3},{"p":"a","c":"C90","x":39.85,"y":14.6},{"p":"a","c":"C90","x":41.9,"y":16.6},
{"p":"a","c":"C97","x":18.0,"y":5.2},{"p":"a","c":"C97","x":21.9,"y":7.6},{"p":"a","c":"C97","x":25.75,"y":10.0},{"p":"a","c":"C97","x":30.36,"y":12.6},{"p":"a","c":"C97","x":35.24,"y":15.4},{"p":"a","c":"C97","x":37.8,"y":16.3},{"p":"a","c":"C97","x":39.85,"y":17.4},{"p":"a","c":"C97","x":41.9,"y":19.5},
{"p":"b","c":"C3","x":18.0,"y":-2.6},{"p":"b","c":"C3","x":21.5,"y":-2.0},{"p":"b","c":"C3","x":24.9,"y":-1.1},{"p":"b","c":"C3","x":29.85,"y":0.0},{"p":"b","c":"C3","x":34.9,"y":0.9},{"p":"b","c":"C3","x":39.9,"y":1.55},{"p":"b","c":"C3","x":43.5,"y":2.05},
{"p":"b","c":"C10","x":18.0,"y":-1.26},{"p":"b","c":"C10","x":25.7,"y":1.05},{"p":"b","c":"C10","x":30.07,"y":2.2},{"p":"b","c":"C10","x":35.0,"y":3.4},{"p":"b","c":"C10","x":39.9,"y":4.0},{"p":"b","c":"C10","x":43.5,"y":4.9},
{"p":"b","c":"C50","x":18.0,"y":1.15},{"p":"b","c":"C50","x":25.7,"y":3.9},{"p":"b","c":"C50","x":30.07,"y":5.5},{"p":"b","c":"C50","x":35.0,"y":7.7},{"p":"b","c":"C50","x":39.9,"y":8.7},{"p":"b","c":"C50","x":43.5,"y":9.9},
{"p":"b","c":"C90","x":18.0,"y":3.5},{"p":"b","c":"C90","x":25.7,"y":7.5},{"p":"b","c":"C90","x":30.07,"y":9.5},{"p":"b","c":"C90","x":35.0,"y":12.1},{"p":"b","c":"C90","x":39.9,"y":13.6},{"p":"b","c":"C90","x":43.5,"y":15.2},
{"p":"b","c":"C97","x":18.0,"y":5.3},{"p":"b","c":"C97","x":25.7,"y":9.5},{"p":"b","c":"C97","x":30.07,"y":11.8},{"p":"b","c":"C97","x":35.0,"y":14.96},{"p":"b","c":"C97","x":39.9,"y":16.9},{"p":"b","c":"C97","x":43.5,"y":18.4},
{"p":"c","c":"C3","x":18.0,"y":-3.5},{"p":"c","c":"C3","x":21.5,"y":-2.6},{"p":"c","c":"C3","x":25.0,"y":-1.9},{"p":"c","c":"C3","x":27.65,"y":-1.7},{"p":"c","c":"C3","x":30.1,"y":-1.5},{"p":"c","c":"C3","x":32.5,"y":-2.0},{"p":"c","c":"C3","x":35.5,"y":-2.8},{"p":"c","c":"C3","x":37.8,"y":-2.2},{"p":"c","c":"C3","x":40.0,"y":-1.4},{"p":"c","c":"C3","x":43.0,"y":-0.6},
{"p":"c","c":"C10","x":18.0,"y":-1.9},{"p":"c","c":"C10","x":22.3,"y":-1.26},{"p":"c","c":"C10","x":25.0,"y":-0.17},{"p":"c","c":"C10","x":30.1,"y":0.4},{"p":"c","c":"C10","x":35.2,"y":0.7},{"p":"c","c":"C10","x":40.0,"y":1.9},{"p":"c","c":"C10","x":43.0,"y":3.1},
{"p":"c","c":"C50","x":18.0,"y":0.56},{"p":"c","c":"C50","x":22.3,"y":1.55},{"p":"c","c":"C50","x":26.05,"y":3.0},{"p":"c","c":"C50","x":28.2,"y":3.4},{"p":"c","c":"C50","x":30.3,"y":4.4},{"p":"c","c":"C50","x":33.0,"y":5.2},{"p":"c","c":"C50","x":36.5,"y":6.85},{"p":"c","c":"C50","x":40.0,"y":8.5},{"p":"c","c":"C50","x":43.0,"y":10.0},
{"p":"c","c":"C90","x":18.0,"y":2.9},{"p":"c","c":"C90","x":22.3,"y":4.4},{"p":"c","c":"C90","x":26.05,"y":6.5},{"p":"c","c":"C90","x":30.3,"y":8.7},{"p":"c","c":"C90","x":33.0,"y":9.5},{"p":"c","c":"C90","x":36.5,"y":11.2},{"p":"c","c":"C90","x":40.0,"y":13.1},{"p":"c","c":"C90","x":43.0,"y":15.3},
{"p":"c","c":"C97","x":18.0,"y":4.1},{"p":"c","c":"C97","x":22.3,"y":6.0},{"p":"c","c":"C97","x":26.05,"y":8.5},{"p":"c","c":"C97","x":30.3,"y":10.8},{"p":"c","c":"C97","x":33.0,"y":11.8},{"p":"c","c":"C97","x":36.5,"y":13.6},{"p":"c","c":"C97","x":40.0,"y":15.5},{"p":"c","c":"C97","x":43.0,"y":17.4}
]
},
"bounds": "flush",
"spacing": 84,
"resolve": {"scale": {"color": "independent"}, "legend": {"color": "independent"}},
"hconcat": [
{
"width": 343, "height": 345,
"title": {"text": "a", "anchor": "start", "frame": "bounds", "fontSize": 20, "fontWeight": "bold", "font": "Lato", "color": "#111111", "offset": -16.5, "dx": 9},
"layer": [
{"data": {"name": "pa"}, "mark": {"type": "circle", "size": 44, "color": "#bdbdbd", "opacity": 0.55},
"encoding": {
"x": {"field": "x", "type": "quantitative", "scale": {"domain": [16.8, 43.2], "nice": false, "zero": false}, "axis": {"orient": "bottom", "title": "period of gestation (weeks)", "values": [20, 25, 30, 35, 40], "labelPadding": 4, "titlePadding": 3}},
"y": {"field": "y", "type": "quantitative", "scale": {"domain": [-10.7, 23.56], "nice": false, "zero": false}, "axis": {"title": "weight gain (kgs)", "values": [-10, 0, 10, 20], "labelExpr": "'' + datum.value"}}
}},
{"data": {"name": "lines"}, "transform": [{"filter": "datum.p === 'a'"}], "mark": {"type": "line", "strokeWidth": 2, "interpolate": "monotone"},
"encoding": {
"x": {"field": "x", "type": "quantitative", "axis": {"orient": "top", "title": "BMI < 18.5", "titleFontSize": 18.5, "labels": false, "ticks": false, "domain": false, "grid": false, "titlePadding": 19.5}},
"y": {"field": "y", "type": "quantitative"},
"color": {"field": "c", "type": "nominal", "scale": {"domain": ["C3", "C10", "C50", "C90", "C97"], "range": ["#333333", "#666666", "#8c8c8c", "#b0b0b0", "#c8c8c8"]}, "legend": {"orient": "none", "legendX": 53, "legendY": 10, "direction": "horizontal", "title": null}}
}}
]
},
{
"width": 343, "height": 345,
"title": {"text": "b", "anchor": "start", "frame": "bounds", "fontSize": 20, "fontWeight": "bold", "font": "Lato", "color": "#111111", "offset": -16.5, "dx": 9},
"layer": [
{"data": {"name": "pb"}, "mark": {"type": "circle", "size": 44, "color": "#bdbdbd", "opacity": 0.55},
"encoding": {
"x": {"field": "x", "type": "quantitative", "scale": {"domain": [16.72, 44.88], "nice": false, "zero": false}, "axis": {"orient": "bottom", "title": "period of gestation (weeks)", "values": [20, 25, 30, 35, 40], "labelPadding": 4, "titlePadding": 3}},
"y": {"field": "y", "type": "quantitative", "scale": {"domain": [-10.7, 23.56], "nice": false, "zero": false}, "axis": {"title": "weight gain (kgs)", "values": [-10, 0, 10, 20], "labelExpr": "'' + datum.value"}}
}},
{"data": {"name": "lines"}, "transform": [{"filter": "datum.p === 'b'"}], "mark": {"type": "line", "strokeWidth": 2, "interpolate": "monotone"},
"encoding": {
"x": {"field": "x", "type": "quantitative", "axis": {"orient": "top", "title": "25 > BMI >= 18.5", "titleFontSize": 18.5, "labels": false, "ticks": false, "domain": false, "grid": false, "titlePadding": 19.5}},
"y": {"field": "y", "type": "quantitative"},
"color": {"field": "c", "type": "nominal", "scale": {"domain": ["C3", "C10", "C50", "C90", "C97"], "range": ["#333333", "#666666", "#8c8c8c", "#b0b0b0", "#c8c8c8"]}, "legend": {"orient": "none", "legendX": 54, "legendY": 10, "direction": "horizontal", "title": null}}
}}
]
},
{
"width": 342, "height": 345,
"title": {"text": "c", "anchor": "start", "frame": "bounds", "fontSize": 20, "fontWeight": "bold", "font": "Lato", "color": "#111111", "offset": -16.5, "dx": 9},
"layer": [
{"data": {"name": "pc"}, "mark": {"type": "circle", "size": 44, "color": "#bdbdbd", "opacity": 0.55},
"encoding": {
"x": {"field": "x", "type": "quantitative", "scale": {"domain": [16.75, 44.25], "nice": false, "zero": false}, "axis": {"orient": "bottom", "title": "period of gestation (weeks)", "values": [20, 25, 30, 35, 40], "labelPadding": 4, "titlePadding": 3}},
"y": {"field": "y", "type": "quantitative", "scale": {"domain": [-10.7, 23.56], "nice": false, "zero": false}, "axis": {"title": "weight gain (kgs)", "values": [-10, 0, 10, 20], "labelExpr": "'' + datum.value"}}
}},
{"data": {"name": "lines"}, "transform": [{"filter": "datum.p === 'c'"}], "mark": {"type": "line", "strokeWidth": 2, "interpolate": "monotone"},
"encoding": {
"x": {"field": "x", "type": "quantitative", "axis": {"orient": "top", "title": "BMI >= 25", "titleFontSize": 18.5, "labels": false, "ticks": false, "domain": false, "grid": false, "titlePadding": 19.5}},
"y": {"field": "y", "type": "quantitative"},
"color": {"field": "c", "type": "nominal", "scale": {"domain": ["C3", "C10", "C50", "C90", "C97"], "range": ["#333333", "#666666", "#8c8c8c", "#b0b0b0", "#c8c8c8"]}, "legend": {"orient": "none", "legendX": 54, "legendY": 10, "direction": "horizontal", "title": null}}
}}
]
}
],
"config": {
"font": "Lato",
"view": {"stroke": null},
"axis": {"labelFont": "Lato", "titleFont": "Lato", "labelFontSize": 14, "titleFontSize": 19, "titleFontWeight": "normal", "labelColor": "#333333", "titleColor": "#1a1a1a", "gridColor": "#ebebeb", "gridWidth": 1, "domainColor": "#222222", "domainWidth": 1.5, "tickColor": "#333333", "tickSize": 4, "tickWidth": 1.2, "labelPadding": 2},
"axisY": {"titlePadding": 3},
"legend": {"labelFont": "Lato", "labelFontSize": 11, "labelColor": "#333333", "symbolType": "stroke", "symbolStrokeWidth": 3, "symbolSize": 225, "labelOffset": 7, "columnPadding": 3, "padding": 0}
}
}
